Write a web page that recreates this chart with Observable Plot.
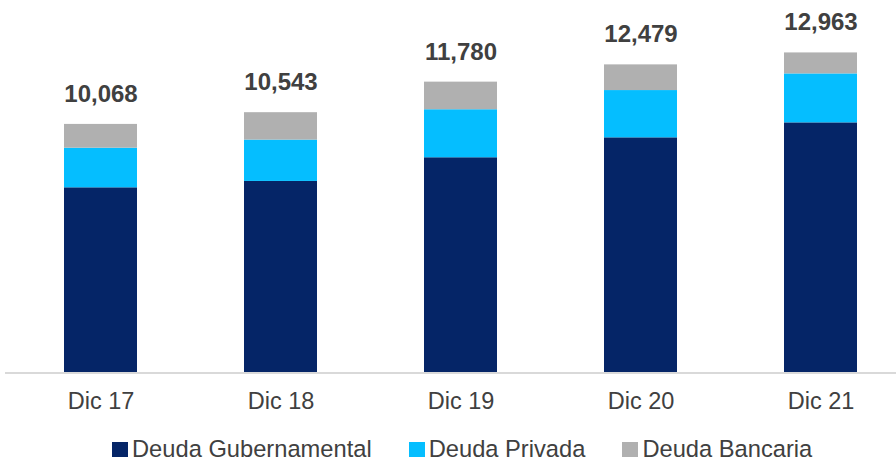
<!DOCTYPE html>
<html>
<head>
<meta charset="utf-8">
<script src="https://cdn.jsdelivr.net/npm/d3@7"></script>
<script src="https://cdn.jsdelivr.net/npm/@observablehq/plot@0.6"></script>
<style>
  html, body { margin: 0; padding: 0; background: #fff; }
  body { width: 896px; height: 463px; position: relative; overflow: hidden;
         font-family: "Liberation Sans", Arial, sans-serif; }
  #legend { position: absolute; top: 439px; left: 112px; display: flex; align-items: center;
            font-size: 23.7px; line-height: 20px; height: 20px; color: #404040; }
  #legend .item { display: flex; align-items: center; margin-right: 37px; }
  #legend .sw { width: 16px; height: 15px; margin-right: 4px; }
</style>
</head>
<body>
<div id="chart"></div>
<div id="legend"></div>
<script>
const categories = ["Dic 17", "Dic 18", "Dic 19", "Dic 20", "Dic 21"];
const seriesNames = ["Deuda Gubernamental", "Deuda Privada", "Deuda Bancaria"];
const seriesColors = ["#052567", "#05BEFF", "#B0B0B0"];
const gubernamental = [7500, 7758, 8717, 9524, 10130];
const privada = [1605, 1675, 1945, 1915, 1983];
const bancaria = [963, 1110, 1118, 1040, 850];
const totals = [10068, 10543, 11780, 12479, 12963];
const totalLabels = ["10,068", "10,543", "11,780", "12,479", "12,963"];

const seriesValues = [gubernamental, privada, bancaria];
const data = [];
seriesNames.forEach((s, si) => {
  categories.forEach((c, ci) => data.push({cat: c, series: s, value: seriesValues[si][ci]}));
});
const labels = categories.map((c, i) => ({cat: c, total: totals[i], label: totalLabels[i]}));

const chart = Plot.plot({
  width: 896,
  height: 425,
  marginLeft: 5,
  marginRight: 0,
  marginTop: 0,
  marginBottom: 52.5,
  style: {fontFamily: '"Liberation Sans", Arial, sans-serif', color: "#404040", background: "#fff"},
  x: {type: "band", domain: categories, range: [62.2, 858], paddingInner: 0.596, paddingOuter: 0, align: 0.5, label: null},
  y: {domain: [0, 13000], range: [372.5, 372.5 - 13000 / 40.5], axis: null},
  color: {domain: seriesNames, range: seriesColors},
  marks: [
    Plot.barY(data, {x: "cat", y: "value", fill: "series", order: seriesNames}),
    Plot.ruleY([0], {stroke: "#d9d9d9", strokeWidth: 2}),
    Plot.text(labels, {x: "cat", y: "total", text: "label", lineAnchor: "bottom", dy: -22.5,
      fontSize: 24, fontWeight: "bold", fill: "#404040"}),
    Plot.axisX({tickSize: 0, tickPadding: 19, fontSize: 23.5, label: null})
  ]
});
document.getElementById("chart").append(chart);

const legend = document.getElementById("legend");
seriesNames.forEach((s, i) => {
  const item = document.createElement("div");
  item.className = "item";
  const sw = document.createElement("span");
  sw.className = "sw";
  sw.style.background = seriesColors[i];
  const t = document.createElement("span");
  t.textContent = s;
  item.append(sw, t);
  legend.append(item);
});
</script>
</body>
</html>
